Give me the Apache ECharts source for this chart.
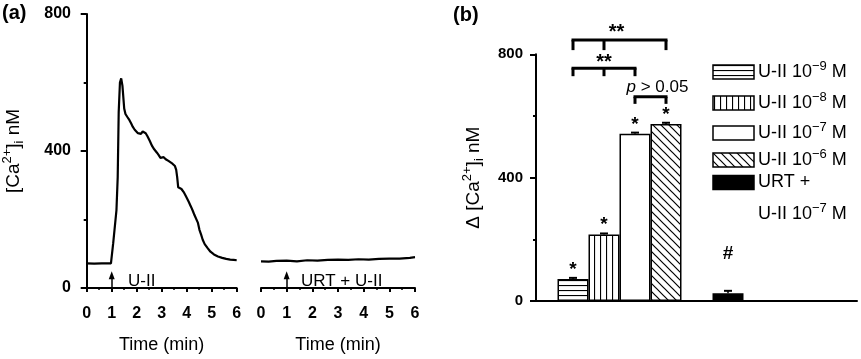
<!DOCTYPE html>
<html><head><meta charset="utf-8">
<script src="https://cdn.jsdelivr.net/npm/echarts@6/dist/echarts.min.js"></script>
<style>html,body{margin:0;padding:0;background:#fff}#c{width:861px;height:359px}</style>
</head><body><div id="c"></div>
<script>
// ---------------- data ----------------
const timeRange = [0, 6];
const caRange = [0, 800];
// U-II trace (time min, [Ca2+]i nM)
const traceUII = [[0,72],[0.3,71],[0.6,72],[0.97,72],[1.06,131],[1.19,227],[1.24,323],[1.28,514],[1.33,600],[1.38,612],[1.43,590],[1.50,524],[1.55,508],[1.62,500],[1.71,490],[1.78,480],[1.84,471],[1.92,462],[1.97,457],[2.05,452],[2.12,455],[2.17,450],[2.24,457],[2.30,459],[2.36,452],[2.43,443],[2.52,430],[2.62,414],[2.70,405],[2.81,395],[2.88,388],[2.95,380],[3.02,384],[3.08,382],[3.16,376],[3.27,371],[3.35,366],[3.43,363],[3.49,366],[3.53,356],[3.58,345],[3.62,323],[3.66,294],[3.72,296],[3.79,289],[3.88,280],[3.99,265],[4.08,252],[4.18,236],[4.25,224],[4.31,213],[4.35,208],[4.38,210],[4.45,190],[4.51,170],[4.58,155],[4.64,141],[4.72,128],[4.83,117],[4.95,106],[5.09,98],[5.25,92],[5.42,88],[5.58,85],[5.74,83],[5.88,82],[6.0,81]];
// URT + U-II trace
const traceURT = [[0,78],[0.3,77],[0.6,79],[1,80],[1.4,78],[1.8,81],[2.2,80],[2.6,82],[3,83],[3.4,82],[3.8,84],[4.2,83],[4.6,85],[5,86],[5.4,86],[5.8,88],[6,90]];
const addTime = 1; // U-II added at 1 min
// panel b
const barCategories = ['U-II 10-9 M','U-II 10-8 M','U-II 10-7 M','U-II 10-6 M','','URT + U-II 10-7 M'];
const barExponents = ['−9','−8','−7','−6',null,'−7'];
const barValues = [71, 216, 542, 574, null, 25];
const barErrors = [4, 3, 4, 4, null, 8];
const barMarks = ['*','*','*','*','','#'];
const comparisons = [[0,1,3],[0,1,2],[2,3]];
const comparisonLabels = ['**','**','{i|p} > 0.05'];

// ---------------- styles / layout ----------------
const FONT = 'Liberation Sans, Arial, sans-serif';
function pat(kind){
  const c = document.createElement('canvas');
  let w = 6, h = 6;
  if (kind === 'h') { w = 4; h = 5; }
  if (kind === 'v') { w = 6; h = 4; }
  if (kind === 'd') { w = 8; h = 8; }
  c.width = w; c.height = h;
  const g = c.getContext('2d');
  g.fillStyle = '#fff'; g.fillRect(0,0,w,h);
  g.strokeStyle = '#000'; g.lineWidth = 1.2;
  g.beginPath();
  if (kind === 'h') { g.moveTo(0,0.5); g.lineTo(w,0.5); }
  if (kind === 'v') { g.moveTo(0.5,0); g.lineTo(0.5,h); }
  if (kind === 'd') { g.moveTo(-1,-1); g.lineTo(w+1,h+1); g.moveTo(-1,h-1); g.lineTo(1,h+1); g.moveTo(w-1,-1); g.lineTo(w+1,1); }
  g.stroke();
  return {image: c, repeat: 'repeat'};
}
const fills = [pat('h'), pat('v'), '#ffffff', pat('d'), null, '#000000'];
const markDist = [0, 0, 0, 0, 0, 30];
const bracketY = [846, 755, 662];
const bracketTick = [10, 8, 7];
const bracketTextUp = [7.2, 5.5, 9.4];
const bracketTextDx = [-3, 0, 7];

const supRich = {
  sup: {fontSize: 13, verticalAlign: 'top', fontFamily: FONT, color:'#000'},
  sub: {fontSize: 13, verticalAlign: 'bottom', fontFamily: FONT, color:'#000'},
  i: {fontStyle: 'italic', fontSize: 17, fontFamily: FONT, color:'#000'}
};

const chart = echarts.init(document.getElementById('c'));

const gA = {top: 14, height: 278.3};
const gB = {top: 54.3, height: 246.7};

function timeAxis(gi){
  return {
    gridIndex: gi, type: 'value', min: timeRange[0], max: timeRange[1], interval: 1,
    offset: 10,
    axisLine: {show: true, lineStyle: {color: '#000', width: 2}},
    axisTick: {show: true, length: 4, lineStyle: {color: '#000', width: 2}},
    minorTick: {show: true, splitNumber: 2, length: 2, lineStyle: {color: '#000', width: 1.5}},
    splitLine: {show: false},
    axisLabel: {color: '#000', fontFamily: FONT, fontWeight: 'bold', fontSize: 16, margin: 8},
    name: 'Time (min)', nameLocation: 'middle', nameGap: 38,
    nameTextStyle: {color: '#000', fontFamily: FONT, fontSize: 18}
  };
}

const option = {
  animation: false,
  backgroundColor: '#fff',
  grid: [
    {left: 82.7, width: 154, top: gA.top, height: gA.height},
    {left: 261, width: 154, top: gA.top, height: gA.height},
    {left: 536, width: 321, top: gB.top, height: gB.height},
    {left: 557.5, width: 186, top: gB.top, height: gB.height}
  ],
  xAxis: [
    timeAxis(0),
    timeAxis(1),
    {gridIndex: 2, type: 'value', min: 0, max: 1, axisLine: {show: true, onZero: false, lineStyle: {color: '#000', width: 2}},
     axisTick: {show: false}, axisLabel: {show: false}, splitLine: {show: false}},
    {gridIndex: 3, type: 'category', data: barCategories, show: false}
  ],
  yAxis: [
    {gridIndex: 0, type: 'value', min: caRange[0], max: caRange[1], interval: 400, offset: 6.7,
     axisLine: {show: true, lineStyle: {color: '#000', width: 2}},
     axisTick: {show: true, length: 6, lineStyle: {color: '#000', width: 2}},
     minorTick: {show: true, splitNumber: 2, length: 3, lineStyle: {color: '#000', width: 2}},
     splitLine: {show: false},
     axisLabel: {color: '#000', fontFamily: FONT, fontWeight: 'bold', fontSize: 16, margin: 9},
     name: '[Ca{sup|2+}]{sub|i} nM', nameLocation: 'middle', nameRotate: 90, nameGap: 54,
     nameTextStyle: {color: '#000', fontFamily: FONT, fontSize: 19, lineHeight: 25, rich: supRich}},
    {gridIndex: 1, type: 'value', min: caRange[0], max: caRange[1], show: false},
    {gridIndex: 2, type: 'value', min: caRange[0], max: caRange[1], interval: 400,
     axisLine: {show: true, lineStyle: {color: '#000', width: 2}},
     axisTick: {show: true, length: 6, lineStyle: {color: '#000', width: 2}},
     minorTick: {show: true, splitNumber: 2, length: 3, lineStyle: {color: '#000', width: 2}},
     splitLine: {show: false},
     axisLabel: {color: '#000', fontFamily: FONT, fontWeight: 'bold', fontSize: 15, margin: 13},
     name: 'Δ [Ca{sup|2+}]{sub|i} nM', nameLocation: 'middle', nameRotate: 90, nameGap: 50,
     nameTextStyle: {color: '#000', fontFamily: FONT, fontSize: 19, lineHeight: 25, rich: supRich}},
    {gridIndex: 3, type: 'value', min: caRange[0], max: caRange[1], show: false}
  ],
  series: [
    {type: 'line', xAxisIndex: 0, yAxisIndex: 0, data: traceUII, symbol: 'none',
     lineStyle: {color: '#000', width: 2.2}, silent: true,
     markLine: {silent: true, animation: false, symbol: ['none','none'], label: {show: false},
       lineStyle: {color: '#000', width: 1.5, type: 'solid'},
       data: [
         [{coord: [addTime, 0], symbol: 'none'}, {coord: [addTime, 37], symbol: 'triangle', symbolSize: [6, 8]}],
         [{coord: [addTime, 0]}, {coord: [timeRange[1], 0]}]
       ]}},
    {type: 'line', xAxisIndex: 1, yAxisIndex: 1, data: traceURT, symbol: 'none',
     lineStyle: {color: '#000', width: 2.2}, silent: true,
     markLine: {silent: true, animation: false, symbol: ['none','none'], label: {show: false},
       lineStyle: {color: '#000', width: 1.5, type: 'solid'},
       data: [
         [{coord: [addTime, 0], symbol: 'none'}, {coord: [addTime, 37], symbol: 'triangle', symbolSize: [6, 8]}],
         [{coord: [addTime, 0]}, {coord: [timeRange[1], 0]}]
       ]}},
    {type: 'bar', xAxisIndex: 3, yAxisIndex: 3, barWidth: '100%', barCategoryGap: '0%',
     itemStyle: {borderColor: '#000', borderWidth: 1.5},
     label: {show: true, position: 'top', color: '#000', fontFamily: FONT, fontSize: 19, fontWeight: 'bold'},
     data: barValues.map((v, i) => v == null ? '-' : {
       value: v, itemStyle: {color: fills[i]},
       label: {formatter: barMarks[i], distance: markDist[i]}
     })},
    {type: 'custom', xAxisIndex: 3, yAxisIndex: 3, z: 5,
     data: barValues.map((v, i) => v == null ? null : [i, v, barErrors[i]]).filter(d => d),
     renderItem: function(params, api){
       const i = api.value(0), v = api.value(1), e = api.value(2);
       const p0 = api.coord([i, v]), p1 = api.coord([i, v + e]);
       return {type: 'group', children: [
         {type: 'line', shape: {x1: p0[0], y1: p0[1], x2: p1[0], y2: p1[1]}, style: {stroke: '#000', lineWidth: 1.5}},
         {type: 'line', shape: {x1: p1[0]-4, y1: p1[1], x2: p1[0]+4, y2: p1[1]}, style: {stroke: '#000', lineWidth: 2}}
       ]};
     }},
    {type: 'custom', xAxisIndex: 3, yAxisIndex: 3, z: 6,
     data: comparisons.map((c, k) => [k]),
     renderItem: function(params, api){
       const k = api.value(0);
       const groups = comparisons[k];
       const y = api.coord([0, bracketY[k]])[1];
       const xs = groups.map(g => api.coord([g, 0])[0]);
       const ch = [{type: 'line', shape: {x1: xs[0]-1.5, y1: y, x2: xs[xs.length-1]+1.5, y2: y}, style: {stroke: '#000', lineWidth: 3}}];
       xs.forEach(x => ch.push({type: 'line', shape: {x1: x, y1: y, x2: x, y2: y + bracketTick[k]}, style: {stroke: '#000', lineWidth: 3}}));
       const isStar = comparisonLabels[k].indexOf('*') >= 0;
       ch.push({type: 'text', style: {text: comparisonLabels[k], x: (xs[0] + xs[xs.length-1]) / 2 + bracketTextDx[k], y: y - bracketTextUp[k],
         align: 'center', verticalAlign: 'middle', fill: '#000', font: isStar ? 'bold 20px ' + FONT : '17px ' + FONT, rich: isStar ? undefined : supRich}});
       return {type: 'group', children: ch};
     }}
  ],
  graphic: []
};

chart.setOption(option);

// legend + annotation texts
const legendCenters = [72, 103, 133, 160, 182.5];
const legendEntries = [0, 1, 2, 3, 5];
const g = [];
g.push({type: 'text', left: 2, top: 3, style: {text: '(a)', font: 'bold 20px ' + FONT, fill: '#000'}});
g.push({type: 'text', left: 453, top: 5, style: {text: '(b)', font: 'bold 20px ' + FONT, fill: '#000'}});
g.push({type: 'text', left: 128, top: 273, style: {text: 'U-II', font: '17px ' + FONT, fill: '#000'}});
g.push({type: 'text', left: 301, top: 273, style: {text: 'URT + U-II', font: '17px ' + FONT, fill: '#000'}});
legendEntries.forEach((idx, r) => {
  const cy = legendCenters[r];
  g.push({type: 'rect', shape: {x: 713, y: cy - 7, width: 41, height: 14},
          style: {fill: fills[idx], stroke: '#000', lineWidth: 1.5}});
  const txt = idx === 5 ? 'URT +' : 'U-II 10{sup|' + barExponents[idx] + '} M';
  g.push({type: 'text', x: 758, y: cy, style: {text: txt, font: '18px ' + FONT, fill: '#000', verticalAlign: 'middle', lineHeight: 24, rich: supRich}});
});
g.push({type: 'text', x: 758, y: 214, style: {text: 'U-II 10{sup|' + barExponents[5] + '} M', font: '18px ' + FONT, fill: '#000', verticalAlign: 'middle', lineHeight: 24, rich: supRich}});
chart.setOption({graphic: g});
</script></body></html>
